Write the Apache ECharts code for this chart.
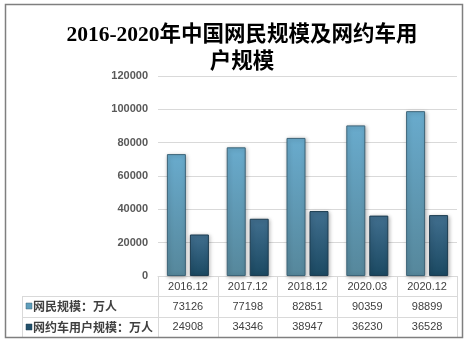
<!DOCTYPE html>
<html><head><meta charset="utf-8">
<script src="https://cdn.jsdelivr.net/npm/echarts@6/dist/echarts.min.js"></script>
<style>html,body{margin:0;padding:0;background:#fff}#c{width:469px;height:342px}</style>
</head><body><div id="c"></div>
<script>
const titleText = '2016-2020年中国网民规模及网约车用\n户规模';
const categories = ['2016.12', '2017.12', '2018.12', '2020.03', '2020.12'];
const seriesNames = ['网民规模：万人', '网约车用户规模：万人'];
const netUsers = [73126, 77198, 82851, 90359, 98899];
const rideUsers = [24908, 34346, 38947, 36230, 36528];
const yTicks = [0, 20000, 40000, 60000, 80000, 100000, 120000];

const G = {left: 158, right: 12, top: 76, bottom: 66};
const W = 469, H = 342;
const axisY = H - G.bottom;
const tableLeft = 22, tableRight = W - G.right;
const row1 = axisY + 20, row2 = axisY + 41, tableBottom = axisY + 61;
const lineCol = '#d9d9d9';
const textCol = '#404040';

const c1 = new echarts.graphic.LinearGradient(0, 0, 0, 1, [{offset: 0, color: '#69abcd'}, {offset: 1, color: '#56879b'}]);
const c2 = new echarts.graphic.LinearGradient(0, 0, 0, 1, [{offset: 0, color: '#416f8f'}, {offset: 1, color: '#1b4962'}]);

const chart = echarts.init(document.getElementById('c'), null, {renderer: 'canvas'});
const valAxis = (data, offset) => ({
  type: 'category', data: data.map(String), position: 'bottom', offset: offset,
  axisLine: {show: false}, axisTick: {show: false},
  axisLabel: {interval: 0, margin: 4, fontSize: 11, color: textCol, fontFamily: 'Liberation Sans'}
});
chart.setOption({
  animation: false,
  grid: {left: G.left, right: G.right, top: G.top, bottom: G.bottom, containLabel: false},
  xAxis: [
    {type: 'category', data: categories, position: 'bottom',
     axisLine: {lineStyle: {color: lineCol}},
     axisTick: {show: true, length: 61, interval: 0, lineStyle: {color: lineCol}},
     axisLabel: {interval: 0, margin: 5, fontSize: 11, color: textCol, fontFamily: 'Liberation Sans'}},
    valAxis(netUsers, 21),
    valAxis(rideUsers, 41)
  ],
  yAxis: {type: 'value', min: yTicks[0], max: yTicks[yTicks.length - 1], interval: yTicks[1] - yTicks[0],
    axisLine: {show: false}, axisTick: {show: false},
    splitLine: {lineStyle: {color: lineCol}},
    axisLabel: {margin: 10, fontSize: 11, fontWeight: 'bold', color: '#595959', fontFamily: 'Liberation Sans',
      formatter: v => String(v)}},
  series: [
    {name: seriesNames[0], type: 'bar', data: netUsers, barWidth: 19, barGap: '21%',
     itemStyle: {color: c1, borderColor: '#3d6478', borderWidth: 1, shadowBlur: 4, shadowColor: 'rgba(0,0,0,0.3)', shadowOffsetX: 1, shadowOffsetY: 1}},
    {name: seriesNames[1], type: 'bar', data: rideUsers, barWidth: 19,
     itemStyle: {color: c2, borderColor: '#1c3c50', borderWidth: 1, shadowBlur: 4, shadowColor: 'rgba(0,0,0,0.3)', shadowOffsetX: 1, shadowOffsetY: 1}}
  ],
  graphic: [
    {type: 'rect', shape: {x: 5.5, y: 4.5, width: 457, height: 333}, style: {fill: 'none', stroke: '#7f7f7f', lineWidth: 1.5}, z: 100},
    {type: 'text', x: 242, y: 22, style: {text: titleText, fill: '#000', textAlign: 'center', textVerticalAlign: 'top',
      font: 'bold 21.5px "Liberation Serif", "Noto Sans CJK SC"', lineHeight: 27}},
    {type: 'line', shape: {x1: tableLeft, y1: row1 + 0.5, x2: tableRight, y2: row1 + 0.5}, style: {stroke: lineCol, lineWidth: 1}},
    {type: 'line', shape: {x1: tableLeft, y1: row2 + 0.5, x2: tableRight, y2: row2 + 0.5}, style: {stroke: lineCol, lineWidth: 1}},
    {type: 'line', shape: {x1: tableLeft + 0.5, y1: row1, x2: tableLeft + 0.5, y2: tableBottom}, style: {stroke: lineCol, lineWidth: 1}},
    {type: 'rect', shape: {x: 26, y: row1 + 7, width: 6, height: 6}, style: {fill: '#5f9ebc', stroke: '#3d6478', lineWidth: 0.5}},
    {type: 'rect', shape: {x: 26, y: row2 + 7, width: 6, height: 6}, style: {fill: '#22506b', stroke: '#1c3c50', lineWidth: 0.5}},
    {type: 'text', x: 33, y: row1 + 10.5, style: {text: seriesNames[0], fill: textCol, textVerticalAlign: 'middle', font: 'bold 12px "Noto Sans CJK SC"'}},
    {type: 'text', x: 33, y: row2 + 10.5, style: {text: seriesNames[1], fill: textCol, textVerticalAlign: 'middle', font: 'bold 12px "Noto Sans CJK SC"'}}
  ]
});
</script></body></html>
